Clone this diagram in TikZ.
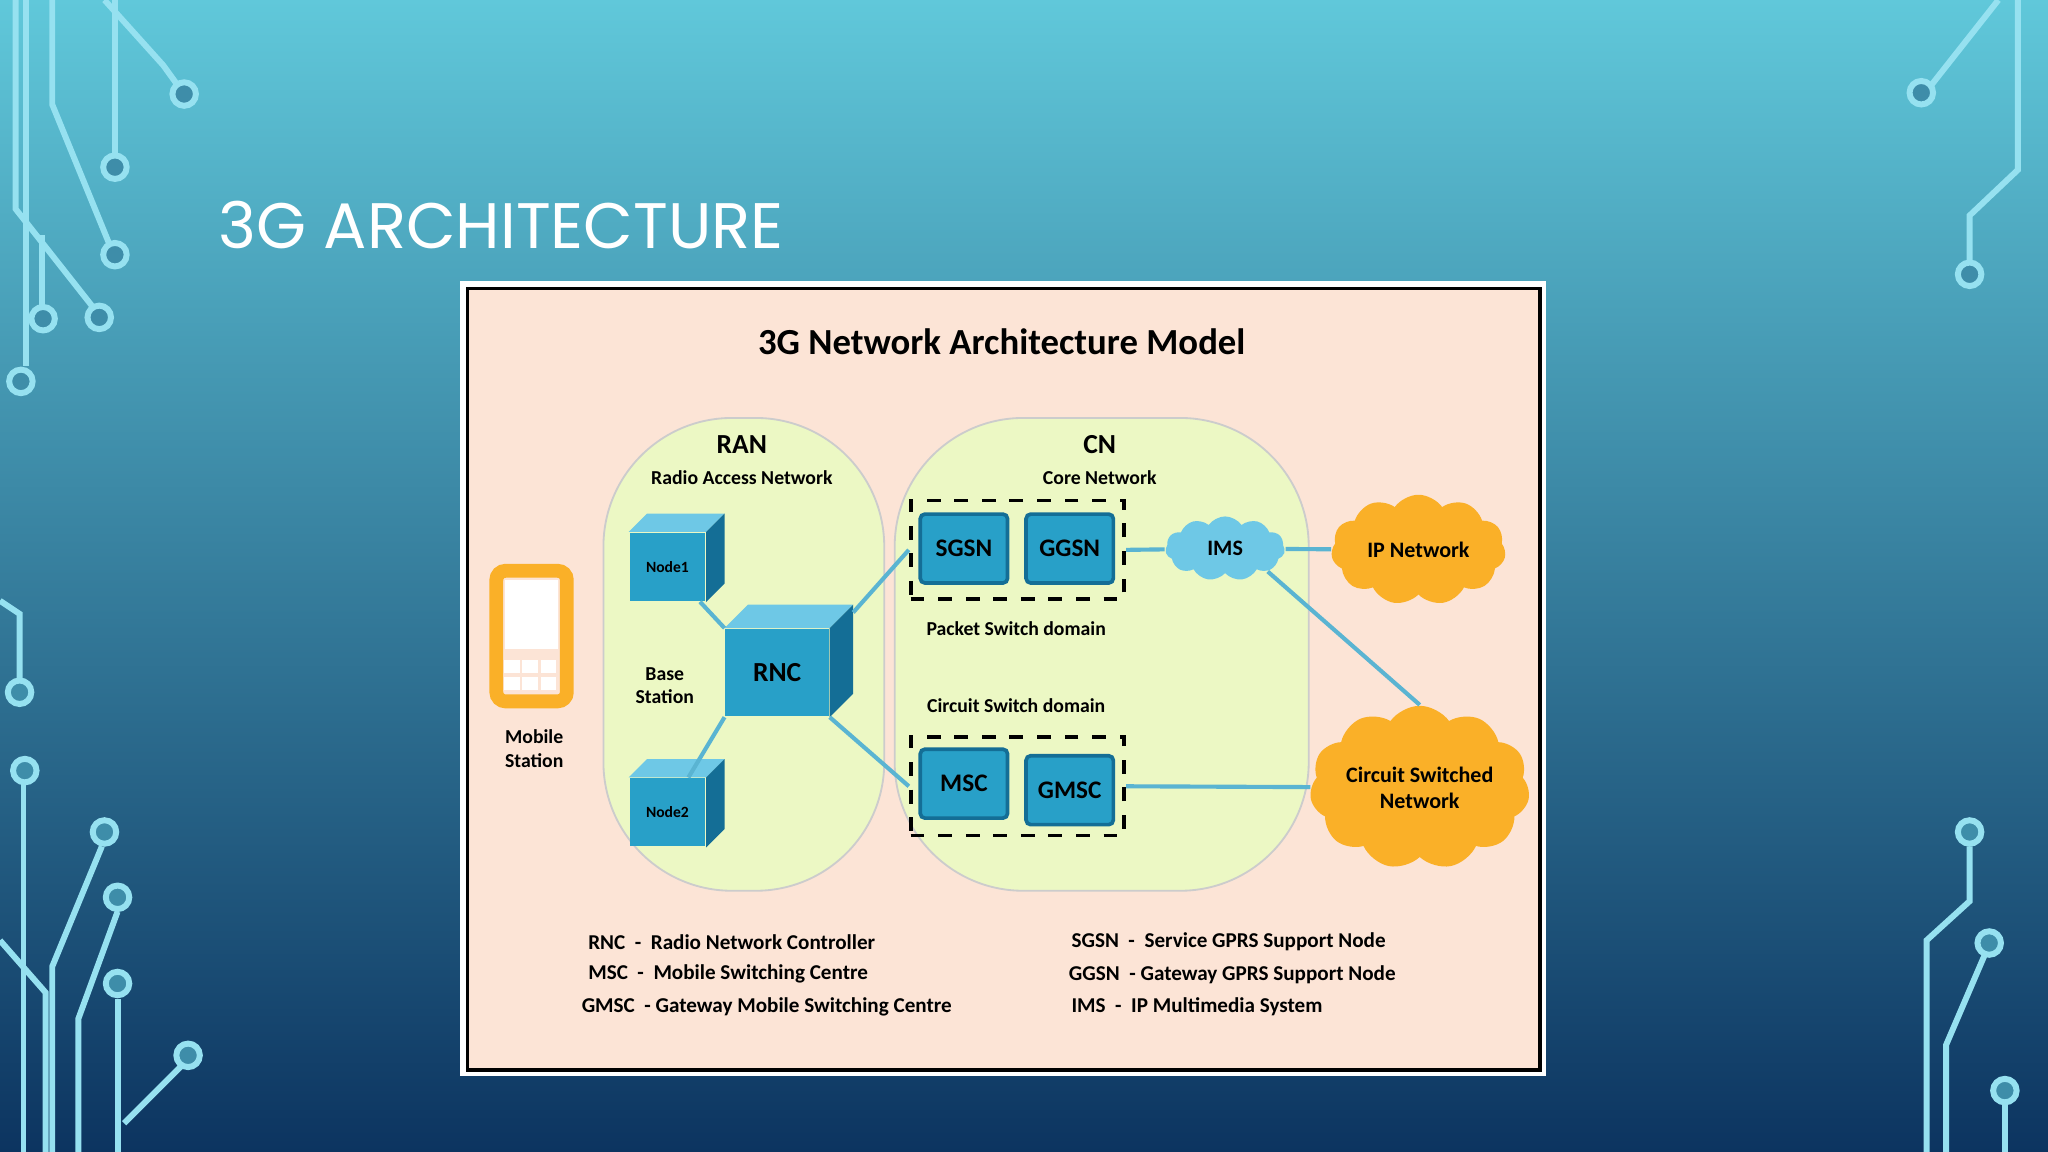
\documentclass[tikz,border=0pt]{standalone}
\usepackage{fontspec}
\setmainfont{Carlito}
\newfontfamily\slidefont{Poppins}
\usetikzlibrary{positioning,shapes.symbols,backgrounds}
\definecolor{skytop}{RGB}{96,200,218}
\definecolor{skybot}{RGB}{12,52,96}
\definecolor{circ}{RGB}{150,225,240}
\definecolor{peach}{RGB}{252,228,214}
\definecolor{lime}{RGB}{236,248,196}
\definecolor{cubefront}{RGB}{40,160,200}
\definecolor{cubetop}{RGB}{110,200,230}
\definecolor{cubeside}{RGB}{20,110,150}
\definecolor{orng}{RGB}{250,176,40}
\definecolor{wire}{RGB}{90,180,210}
\tikzset{
  zone/.style={draw=gray!40, fill=lime, rounded corners=28pt},
  box/.style={fill=cubefront, draw=cubeside, thick, minimum width=19pt, minimum height=15pt, inner sep=0pt, font=\fontsize{5.5}{6}\selectfont\bfseries, rounded corners=1pt},
  cube/.style={fill=cubefront, inner sep=0pt},
  dom/.style={draw, dashed, thick},
  wirel/.style={wire, line width=0.9pt},
  cloudy/.style={cloud, cloud puffs=11, cloud puff arc=110, aspect=1.6, fill=orng, inner sep=0pt, font=\fontsize{4.8}{5.6}\selectfont\bfseries, align=center},
  lbl/.style={font=\fontsize{4.3}{5.2}\selectfont\bfseries, align=center},
  legend/.style={font=\fontsize{4.6}{5.5}\selectfont\bfseries, anchor=west},
  trace/.style={circ, line width=1.3pt},
  pad/.style={circ, line width=1.3pt}
}
\begin{document}
\begin{tikzpicture}[x=0.01cm,y=-0.01cm]
\useasboundingbox (0,0) rectangle (1568,882);
\shade[top color=skytop, bottom color=skybot] (0,0) rectangle (1568,882);
% circuit traces
\draw[trace] (20,0) -- (20,280);
\draw[trace] (40,0) -- (40,80) -- (85,190);
\draw[trace] (12,0) -- (12,160) -- (75,240);
\draw[trace] (88,0) -- (88,125);
\draw[trace] (80,0) -- (125,50) -- (138,68);
\draw[trace] (32,180) -- (32,240);
\draw[trace] (0,460) -- (15,470) -- (15,525);
\draw[trace] (18,600) -- (18,882);
\draw[trace] (0,720) -- (35,760) -- (35,882);
\draw[trace] (78,648) -- (40,740) -- (40,882);
\draw[trace] (90,698) -- (60,780) -- (60,882);
\draw[trace] (90,765) -- (90,882);
\draw[trace] (140,815) -- (95,860);
\draw[trace] (1530,0) -- (1478,66);
\draw[trace] (1545,0) -- (1545,130) -- (1508,165) -- (1508,200);
\draw[trace] (1508,648) -- (1508,690) -- (1475,720) -- (1475,882);
\draw[trace] (1520,730) -- (1490,800) -- (1490,882);
\draw[trace] (1535,842) -- (1535,882);
\foreach \x/\y in {141/72,88/128,88/195,76/243,33/244,16/292,15/530,19/590,80/637,90/687,90/753,144/808,1471/71,1508/210,1508/637,1523/722,1535/835}
  \draw[pad, fill=skytop!60!skybot] (\x,\y) circle (9);
\node[anchor=west, text=white, font=\slidefont\fontsize{14}{17}\selectfont] (title) at (155,172) {3G ARCHITECTURE};
% frame
\fill[white] (352,215) rectangle (1184,824);
\draw[fill=peach, thick] (358,221) rectangle (1179,819);
\node[font=\fontsize{8}{9}\selectfont\bfseries] (head) at (767,262) {3G Network Architecture Model};
\draw[zone] (462,320) rectangle (677,682);
\draw[zone] (685,320) rectangle (1002,682);
\node[font=\fontsize{6}{7}\selectfont\bfseries] (ran) at (568,340) {RAN};
\node[lbl] (rant) at (568,366) {Radio Access Network};
\node[font=\fontsize{6}{7}\selectfont\bfseries] (cn) at (842,340) {CN};
\node[lbl] (cnt) at (842,366) {Core Network};
% cubes
\node[cube, minimum width=16.5pt, minimum height=14.8pt, font=\fontsize{3.4}{4}\selectfont\bfseries] (n1) at (511,434) {Node1};
\node[cube, minimum width=16.5pt, minimum height=14.8pt, font=\fontsize{3.4}{4}\selectfont\bfseries] (n2) at (511,622) {Node2};
\node[cube, minimum width=22.5pt, minimum height=19pt, font=\fontsize{6}{7}\selectfont\bfseries] (rnc) at (595,515) {RNC};
\foreach \n/\d in {n1/14,n2/14,rnc/18}{
  \fill[cubetop] (\n.north west) -- ++(\d,-\d) -- ([shift={(\d,-\d)}]\n.north east) -- (\n.north east) -- cycle;
  \fill[cubeside] (\n.north east) -- ++(\d,-\d) -- ([shift={(\d,-\d)}]\n.south east) -- (\n.south east) -- cycle;
}
\node[lbl] (bs) at (509,525) {Base\\Station};
% phone
\draw[orng, line width=3pt, rounded corners=2pt] (380,437) rectangle (434,537);
\fill[white] (387,444) rectangle (427,497);
\foreach \i in {0,1,2}\foreach \j in {0,1}
  \fill[white] (386+\i*14,505+\j*13) rectangle (398+\i*14,515+\j*13);
\node[lbl] (ms) at (409,573) {Mobile\\Station};
% core
\node[box] (sgsn) at (738,420) {SGSN};
\node[box] (ggsn) at (819,420) {GGSN};
\node[box] (msc) at (738,600) {MSC};
\node[box] (gmsc) at (819,605) {GMSC};
\node[dom, minimum width=46.5pt, minimum height=21.5pt] (ps) at (779,421) {};
\node[dom, minimum width=46.5pt, minimum height=21.5pt] (cs) at (779,602) {};
\node[lbl] (pst) at (778,481) {Packet Switch domain};
\node[lbl] (cst) at (778,540) {Circuit Switch domain};
\node[cloudy, fill=cubetop, minimum width=26pt, minimum height=14pt, aspect=2] (ims) at (938,420) {IMS};
\node[cloudy, minimum width=38pt, minimum height=24pt] (ip) at (1086,421) {IP Network};
\node[cloudy, minimum width=38pt, minimum height=24pt, aspect=1.5] (csn) at (1087,603) {Circuit Switched\\Network};
% links
\draw[wirel] (n1) -- (rnc.north west);
\draw[wirel] (n2) -- (rnc.south west);
\draw[wirel] ([shift={(18,-12)}]rnc.north east) -- (ps.west);
\draw[wirel] (rnc.south east) -- (cs.west);
\draw[wirel] (ps.east) -- (ims);
\draw[wirel] (ims) -- (ip);
\draw[wirel] (ims.south east) -- (csn.north);
\draw[wirel] (cs.east) -- (csn);
% legend
\node[legend] (l1) at (438,721) {RNC \ - \ Radio Network Controller};
\node[legend] (l2) at (438,746) {MSC \ - \ Mobile Switching Centre};
\node[legend] (l3) at (433,771) {GMSC \ - Gateway Mobile Switching Centre};
\node[legend] (l4) at (808,721) {SGSN \ - \ Service GPRS Support Node};
\node[legend] (l5) at (806,746) {GGSN \ - Gateway GPRS Support Node};
\node[legend] (l6) at (808,771) {IMS \ - \ IP Multimedia System};
\end{tikzpicture}
\end{document}
